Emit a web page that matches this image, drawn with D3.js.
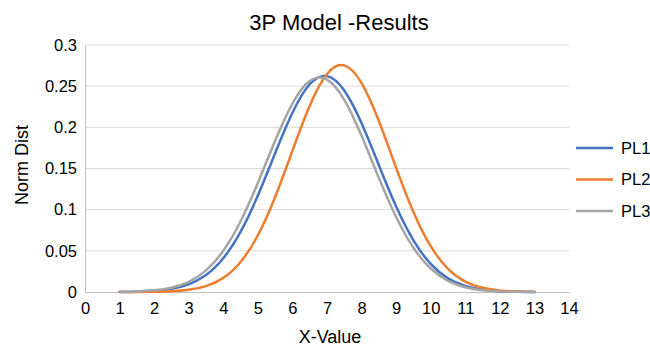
<!DOCTYPE html>
<html>
<head>
<meta charset="utf-8">
<script src="https://cdn.jsdelivr.net/npm/d3@7"></script>
<style>
  body { margin: 0; background: #fff; }
  svg { font-family: "Liberation Sans", Arial, sans-serif; }
</style>
</head>
<body>
<div class="chart"></div>
<script>
// values
const xValues = [1, 1.5, 2, 2.5, 3, 3.5, 4, 4.5, 5, 5.5, 6, 6.5, 7, 7.5, 8, 8.5, 9, 9.5, 10, 10.5, 11, 11.5, 12, 12.5, 13];
const pl1 = [0.0001, 0.0004, 0.0014, 0.0038, 0.0093, 0.0206, 0.0410, 0.0731, 0.1172, 0.1686, 0.2177, 0.2523, 0.2622, 0.2447, 0.2049, 0.1540, 0.1038, 0.0628, 0.0341, 0.0166, 0.0073, 0.0029, 0.0010, 0.0003, 0.0001];
const pl2 = [0.0000, 0.0001, 0.0003, 0.0009, 0.0027, 0.0072, 0.0172, 0.0365, 0.0688, 0.1154, 0.1715, 0.2262, 0.2648, 0.2752, 0.2537, 0.2076, 0.1508, 0.0972, 0.0556, 0.0282, 0.0127, 0.0051, 0.0018, 0.0006, 0.0002];
const pl3 = [0.0002, 0.0007, 0.0020, 0.0052, 0.0123, 0.0262, 0.0500, 0.0859, 0.1325, 0.1837, 0.2289, 0.2563, 0.2580, 0.2334, 0.1897, 0.1386, 0.0910, 0.0537, 0.0285, 0.0136, 0.0058, 0.0022, 0.0008, 0.0002, 0.0001];
const seriesNames = ['PL1', 'PL2', 'PL3'];
const seriesColors = ['#4472C4', '#ED7D31', '#A5A5A5'];
const xTicks = d3.range(0, 15);
const yTicks = [0, 0.05, 0.1, 0.15, 0.2, 0.25, 0.3];

const width = 650, height = 348;
const plotLeft = 85, plotRight = 569, plotTop = 45, plotBottom = 292;

const svg = d3.select('.chart')
  .append('svg')
  .attr('width', width)
  .attr('height', height);

const x = d3.scaleLinear().domain([0, 14]).range([plotLeft, plotRight]);
const y = d3.scaleLinear().domain([0, 0.3]).range([plotBottom, plotTop]);

// gridlines
svg.append('g')
  .selectAll('line')
  .data(yTicks.slice(1))
  .enter().append('line')
  .attr('x1', plotLeft).attr('x2', plotRight)
  .attr('y1', d => y(d)).attr('y2', d => y(d))
  .attr('stroke', '#d9d9d9')
  .attr('stroke-width', 1);

// axes
const xAxis = svg.append('g')
  .attr('transform', `translate(0,${plotBottom})`)
  .call(d3.axisBottom(x).tickValues(xTicks).tickSize(0).tickPadding(10));
xAxis.select('.domain').attr('stroke', '#bfbfbf');

const yAxis = svg.append('g')
  .attr('transform', `translate(${plotLeft},0)`)
  .call(d3.axisLeft(y).tickValues(yTicks).tickSize(0).tickPadding(8).tickFormat(d3.format('')));
yAxis.select('.domain').attr('stroke', '#bfbfbf');

svg.selectAll('.tick text')
  .attr('font-size', 16.5)
  .attr('fill', '#000')
  .attr('font-family', '"Liberation Sans", Arial, sans-serif');

// lines
const series = [pl1, pl2, pl3];
const line = d3.line()
  .x((d, i) => x(xValues[i]))
  .y(d => y(d))
  .curve(d3.curveNatural);

svg.selectAll('.series')
  .data(series)
  .enter().append('path')
  .attr('class', 'series')
  .attr('d', line)
  .attr('fill', 'none')
  .attr('stroke', (d, i) => seriesColors[i])
  .attr('stroke-width', 2.5)
  .attr('stroke-linecap', 'round');

// title + axis titles
svg.append('text')
  .attr('x', 339).attr('y', 30)
  .attr('text-anchor', 'middle')
  .attr('font-size', 22)
  .text('3P Model -Results');

svg.append('text')
  .attr('x', 330).attr('y', 343)
  .attr('text-anchor', 'middle')
  .attr('font-size', 18)
  .text('X-Value');

svg.append('text')
  .attr('transform', 'translate(28,165) rotate(-90)')
  .attr('text-anchor', 'middle')
  .attr('font-size', 18)
  .text('Norm Dist');

// legend
const legend = svg.append('g')
  .selectAll('g')
  .data(seriesNames)
  .enter().append('g')
  .attr('transform', (d, i) => `translate(576,${148 + i * 31.5})`);

legend.append('line')
  .attr('x1', 0).attr('x2', 37)
  .attr('stroke', (d, i) => seriesColors[i])
  .attr('stroke-width', 2.5);

legend.append('text')
  .attr('x', 45).attr('dy', '0.35em')
  .attr('font-size', 16.5)
  .text(d => d);
</script>
</body>
</html>
